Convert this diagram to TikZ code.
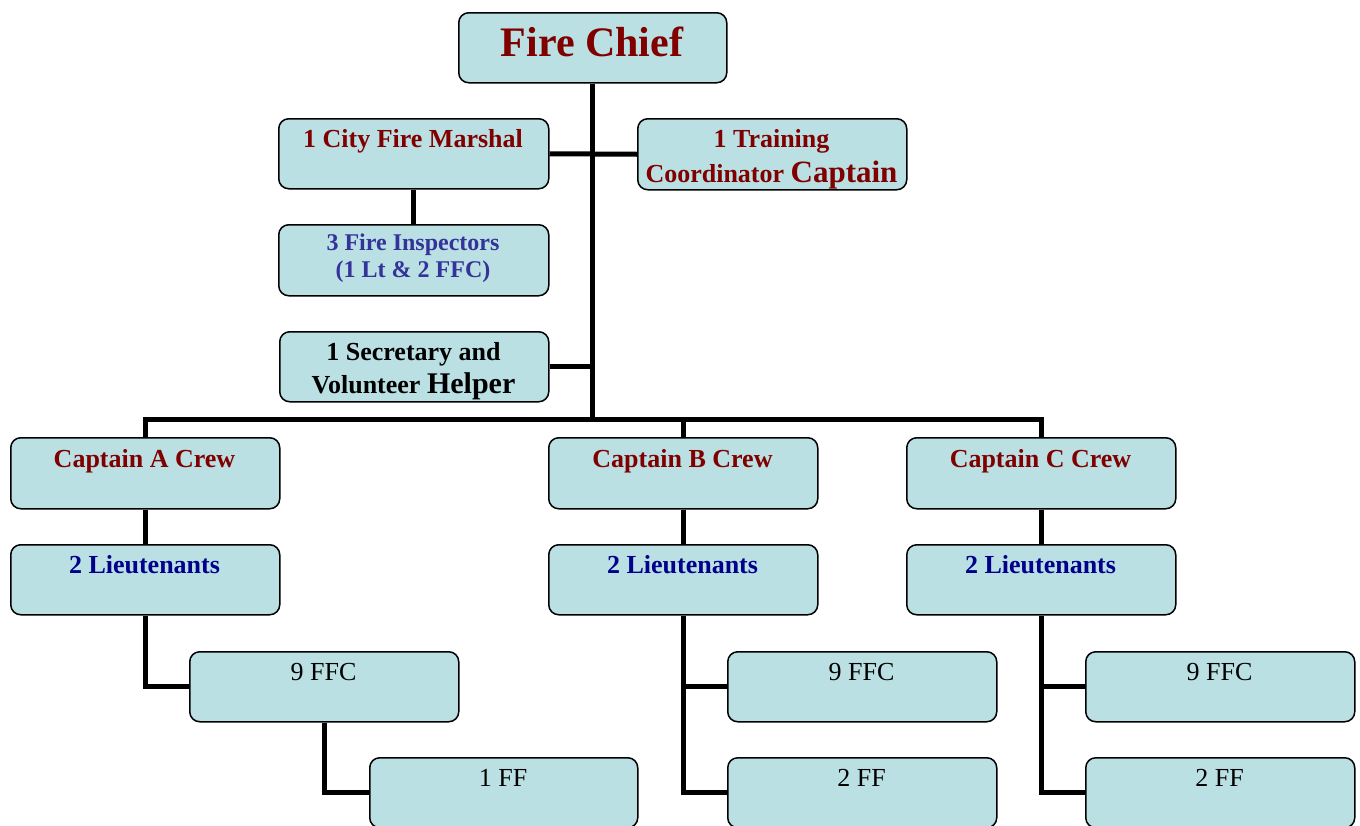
\documentclass[tikz,border=0pt]{standalone}
\usepackage{fontspec}
\setmainfont{Liberation Serif}
\definecolor{boxfill}{RGB}{186,224,227}
\definecolor{firered}{RGB}{128,0,0}
\definecolor{ltblue}{RGB}{0,0,139}
\definecolor{inspblue}{RGB}{51,51,153}
\begin{document}
\begin{tikzpicture}[x=1pt,y=-1pt,
  orgbox/.style={draw=black,line width=1.5pt,rounded corners=10pt,fill=boxfill,
    minimum width=269pt,minimum height=70pt,inner sep=0pt,anchor=north west},
  link/.style={line width=5pt,black},
  txt/.style={anchor=base,inner sep=0pt,font=\fontsize{26}{30}\selectfont\bfseries},
  redtxt/.style={txt,text=firered},
  bluetxt/.style={txt,text=ltblue},
  plaintxt/.style={anchor=base,inner sep=0pt,font=\fontsize{26}{30}\selectfont}]
\useasboundingbox (0,0) rectangle (1360,825);
% boxes
\node[orgbox,minimum width=268pt] (chief) at (458,12) {};
\node[orgbox,minimum width=270pt] (marshal) at (278,118) {};
\node[orgbox,minimum height=71pt] (training) at (637,118) {};
\node[orgbox,minimum width=270pt,minimum height=71pt] (insp) at (278,224) {};
\node[orgbox] (secr) at (279,331) {};
\node[orgbox,minimum height=71pt] (capA) at (10,437) {};
\node[orgbox,minimum height=71pt] (capB) at (548,437) {};
\node[orgbox,minimum height=71pt] (capC) at (906,437) {};
\node[orgbox] (ltA) at (10,544) {};
\node[orgbox] (ltB) at (548,544) {};
\node[orgbox] (ltC) at (906,544) {};
\node[orgbox] (ffcA) at (189,651) {};
\node[orgbox] (ffcB) at (727,651) {};
\node[orgbox] (ffcC) at (1085,651) {};
\node[orgbox,minimum width=268pt] (ffA) at (369,757) {};
\node[orgbox] (ffB) at (727,757) {};
\node[orgbox] (ffC) at (1085,757) {};
% connectors
\draw[link] (chief.south) -- ++(0,336) coordinate (hub);
\draw[link] (marshal.east) -- (training.west);
\draw[link] (marshal.south) -- (insp.north);
\draw[link] (secr.east) -- (secr.east -| chief.south);
\draw[link] (capA.north) |- (hub);
\draw[link] (capC.north) |- (hub);
\draw[link] (capB.north) -- (capB.north |- hub);
\draw[link] (capA.south) -- (ltA.north);
\draw[link] (capB.south) -- (ltB.north);
\draw[link] (capC.south) -- (ltC.north);
\draw[link] (ltA.south) |- (ffcA.west);
\draw[link] (ffcA.south) |- (ffA.west);
\draw[link] (ltB.south) |- (ffcB.west);
\draw[link] (ltB.south) |- (ffB.west);
\draw[link] (ltC.south) |- (ffcC.west);
\draw[link] (ltC.south) |- (ffC.west);
% texts
\node[redtxt,font=\fontsize{42}{48}\selectfont\bfseries] (chiefT) at (592,56) {Fire Chief};
\node[redtxt] (marshalT) at (413,147) {1 City Fire Marshal};
\node[redtxt] (trainT1) at (771.5,147) {1 Training};
\node[redtxt] (trainT2) at (771.5,182) {Coordinator {\fontsize{31}{34}\selectfont Captain}};
\node[txt,text=inspblue,font=\fontsize{24}{28}\selectfont\bfseries] (inspT1) at (413,250) {3 Fire Inspectors};
\node[txt,text=inspblue,font=\fontsize{24}{28}\selectfont\bfseries] (inspT2) at (413,277) {(1 Lt \& 2 FFC)};
\node[txt] (secrT1) at (413.5,360) {1 Secretary and};
\node[txt] (secrT2) at (413.5,393) {Volunteer {\fontsize{30}{34}\selectfont Helper}};
\node[redtxt] (capAT) at (144.5,467) {Captain A Crew};
\node[redtxt] (capBT) at (682.5,467) {Captain B Crew};
\node[redtxt] (capCT) at (1040.5,467) {Captain C Crew};
\node[bluetxt] (ltAT) at (144.5,573) {2 Lieutenants};
\node[bluetxt] (ltBT) at (682.5,573) {2 Lieutenants};
\node[bluetxt] (ltCT) at (1040.5,573) {2 Lieutenants};
\node[plaintxt] (ffcAT) at (323.5,680) {9 FFC};
\node[plaintxt] (ffcBT) at (861.5,680) {9 FFC};
\node[plaintxt] (ffcCT) at (1219.5,680) {9 FFC};
\node[plaintxt] (ffAT) at (503,786) {1 FF};
\node[plaintxt] (ffBT) at (861.5,786) {2 FF};
\node[plaintxt] (ffCT) at (1219.5,786) {2 FF};
\end{tikzpicture}
\end{document}
